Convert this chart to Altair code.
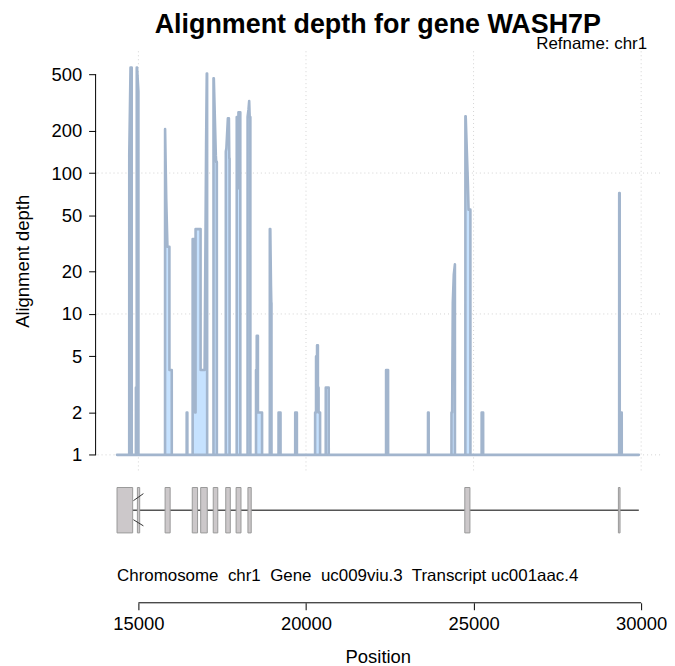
import altair as alt
import pandas as pd

# ---------------- data ----------------
# alignment depth profile (vertices of the coverage outline)
positions = [14362,
             14726, 14727, 14765, 14800, 14801,
             14925, 14926, 14950, 14951, 14960, 15000, 15001,
             15795, 15796, 15830, 15866, 15925, 15926, 15995, 15996,
             16440, 16441, 16460, 16461,
             16618, 16619, 16675, 16690, 16691, 16705, 16706, 16855, 16856, 16975, 17000, 17020, 17040, 17050, 17051,
             17240, 17241, 17250, 17310, 17320, 17340, 17341,
             17607, 17608, 17625, 17670, 17700, 17712, 17720, 17721,
             17933, 17934, 17950, 17960, 17975, 17985, 18040, 18041,
             18257, 18258, 18285, 18305, 18320, 18340, 18341,
             18509, 18510, 18530, 18531, 18565, 18566, 18689, 18690,
             18920, 18921, 18935, 18955, 18965, 18970, 18971,
             19181, 19182, 19240, 19241,
             19678, 19679, 19728, 19729,
             20272, 20273, 20300, 20301, 20330, 20331, 20355, 20356, 20375, 20376, 20420, 20421,
             20589, 20590, 20678, 20679,
             22389, 22390, 22449, 22450,
             23640, 23641, 23660, 23661,
             24340, 24341, 24360, 24380, 24410, 24443, 24444,
             24755, 24756, 24765, 24830, 24850, 24905, 24906,
             25240, 25241, 25285, 25286,
             29344, 29345, 29360, 29361, 29420, 29421,
             29930]
depths = [1,
          1, 134, 560, 560, 1,
          1, 3, 3, 560, 560, 380, 1,
          1, 205, 66, 30, 30, 4, 4, 1,
          1, 2, 2, 1,
          1, 34, 34, 30, 2, 2, 40, 40, 4, 4, 31, 160, 509, 509, 1,
          1, 470, 470, 134, 120, 120, 1,
          1, 142, 150, 245, 245, 127, 127, 1,
          1, 250, 250, 78, 78, 270, 270, 1,
          1, 250, 283, 324, 250, 250, 1,
          1, 4, 4, 7, 7, 2, 2, 1,
          1, 40, 40, 16, 12, 12, 1,
          1, 2, 2, 1,
          1, 2, 2, 1,
          1, 2, 2, 5, 5, 6, 6, 3, 3, 2, 2, 1,
          1, 3, 3, 1,
          1, 4, 4, 1,
          1, 2, 2, 1,
          1, 2, 2, 12, 19, 22.5, 1,
          1, 253, 253, 85, 55, 55, 1,
          1, 2, 2, 1,
          1, 72, 72, 2, 2, 1,
          1]

# transcript uc001aac.4 exons
exon_starts = [14362, 14970, 15796, 16607, 16858, 17233, 17606, 17915, 18268, 24738, 29321]
exon_ends = [14829, 15038, 15947, 16765, 17055, 17368, 17742, 18061, 18366, 24891, 29370]
gene_start, gene_end = 14362, 29930

# strand chevrons beside exon 2
chev_x = [14851, 14851]
chev_x2 = [15149, 15149]
chev_y = [0.42, -0.42]
chev_y2 = [0.73, -0.69]

y_ticks = [1, 2, 5, 10, 20, 50, 100, 200, 500]
x_ticks = [15000, 20000, 25000, 30000]
grid_y = [1, 10, 100]

title_text = "Alignment depth for gene WASH7P"
refname_text = ["Refname: chr1"]
info_text = ["Chromosome\u00a0 chr1\u00a0 Gene\u00a0 uc009viu.3\u00a0 Transcript uc001aac.4"]

# ---------------- chart ----------------
FONT = "Liberation Sans"
X_DOMAIN = [13723, 30563]
Y_DOMAIN = [0.776, 731]
G_DOMAIN = [-4.08, 1.71]
W = 567
H1 = 421
H2 = 132

xscale = alt.Scale(domain=X_DOMAIN, nice=False, zero=False)
yscale = alt.Scale(type="log", domain=Y_DOMAIN, nice=False)
gscale = alt.Scale(domain=G_DOMAIN, nice=False, zero=False)

y_axis = alt.Axis(values=y_ticks, format="d", grid=False, domain=False, tickSize=7,
                  tickColor="black", labelPadding=7, labelFontSize=18.5, labelFont=FONT,
                  labelColor="black", title="Alignment depth", titleFontSize=18.5,
                  titleFont=FONT, titleFontWeight="normal", titleColor="black",
                  titlePadding=19)
x_axis = alt.Axis(values=x_ticks, format="d", grid=False, domain=False, tickSize=7,
                  tickColor="black", labelPadding=5, labelFontSize=18.5, labelFont=FONT,
                  labelColor="black", title="Position", titleFontSize=18.5, titleFont=FONT,
                  titleFontWeight="normal", titleColor="black", titlePadding=14)

depth_df = pd.DataFrame({"pos": positions, "depth": depths})

grid_v = alt.Chart(pd.DataFrame({"pos": x_ticks})).mark_rule(
    color="#d3d3d3", strokeDash=[1, 3], strokeWidth=1
).encode(x=alt.X("pos:Q", scale=xscale, axis=None))

grid_h = alt.Chart(pd.DataFrame({"depth": grid_y})).mark_rule(
    color="#d3d3d3", strokeDash=[1, 3], strokeWidth=1
).encode(y=alt.Y("depth:Q", scale=yscale, axis=y_axis))

area = alt.Chart(depth_df).mark_area(
    fill="#C6E2FF", stroke="#A2B5CD", strokeWidth=2.6, strokeJoin="round",
    strokeCap="round", interpolate="linear", opacity=1
).encode(
    x=alt.X("pos:Q", scale=xscale, axis=None),
    y=alt.Y("depth:Q", scale=yscale, axis=y_axis),
    y2=alt.datum(1),
)

yline = alt.Chart(pd.DataFrame({"pos": [X_DOMAIN[0]], "depth": [y_ticks[0]],
                                "depth2": [y_ticks[-1]]})).mark_rule(
    color="black", strokeWidth=1
).encode(x=alt.X("pos:Q", scale=xscale, axis=None),
         y=alt.Y("depth:Q", scale=yscale, axis=y_axis), y2="depth2:Q")

refname = alt.Chart(pd.DataFrame({"t": refname_text})).mark_text(
    align="right", baseline="alphabetic", fontSize=17, font=FONT, color="black"
).encode(text="t:N", x=alt.value(554), y=alt.value(-2))

top = alt.layer(grid_v, grid_h, area, yline, refname).properties(
    width=W, height=H1,
    title=alt.TitleParams(title_text, fontSize=27, font=FONT, fontWeight="bold",
                          anchor="middle", color="black", offset=-4),
)

intron = alt.Chart(pd.DataFrame({"pos": [gene_start], "pos2": [gene_end], "g": [0]})).mark_rule(
    color="#555555", strokeWidth=1.6
).encode(x=alt.X("pos:Q", scale=xscale, axis=x_axis), x2="pos2:Q",
         y=alt.Y("g:Q", scale=gscale, axis=None))

exons = alt.Chart(pd.DataFrame({"pos": exon_starts, "pos2": exon_ends,
                                "g": [-1] * len(exon_starts), "g2": [1] * len(exon_starts)})).mark_rect(
    fill="#CCC8CA", stroke="#999999", strokeWidth=1
).encode(x=alt.X("pos:Q", scale=xscale, axis=x_axis), x2="pos2:Q",
         y=alt.Y("g:Q", scale=gscale, axis=None), y2="g2:Q")

chev = alt.Chart(pd.DataFrame({"pos": chev_x, "pos2": chev_x2, "g": chev_y, "g2": chev_y2})).mark_rule(
    color="#333333", strokeWidth=1
).encode(x=alt.X("pos:Q", scale=xscale, axis=x_axis), x2="pos2:Q",
         y=alt.Y("g:Q", scale=gscale, axis=None), y2="g2:Q")

info = alt.Chart(pd.DataFrame({"pos": [gene_start], "g": [-2.9], "t": info_text})).mark_text(
    align="left", baseline="middle", fontSize=17, font=FONT, color="black"
).encode(x=alt.X("pos:Q", scale=xscale, axis=x_axis),
         y=alt.Y("g:Q", scale=gscale, axis=None), text="t:N")

xline = alt.Chart(pd.DataFrame({"pos": [x_ticks[0]], "pos2": [x_ticks[-1]], "g": [G_DOMAIN[0]]})).mark_rule(
    color="black", strokeWidth=1
).encode(x=alt.X("pos:Q", scale=xscale, axis=x_axis), x2="pos2:Q",
         y=alt.Y("g:Q", scale=gscale, axis=None))

bottom = alt.layer(intron, exons, chev, info, xline).properties(width=W, height=H2)

chart = alt.vconcat(top, bottom, spacing=0).resolve_scale(
    x="independent", y="independent"
).properties(
    padding={"left": 5, "right": 0, "top": 2, "bottom": 0},
    background="white",
).configure_view(stroke="transparent", strokeWidth=0)

chart.save("out.html", embed_options={"renderer": "svg", "actions": False})
